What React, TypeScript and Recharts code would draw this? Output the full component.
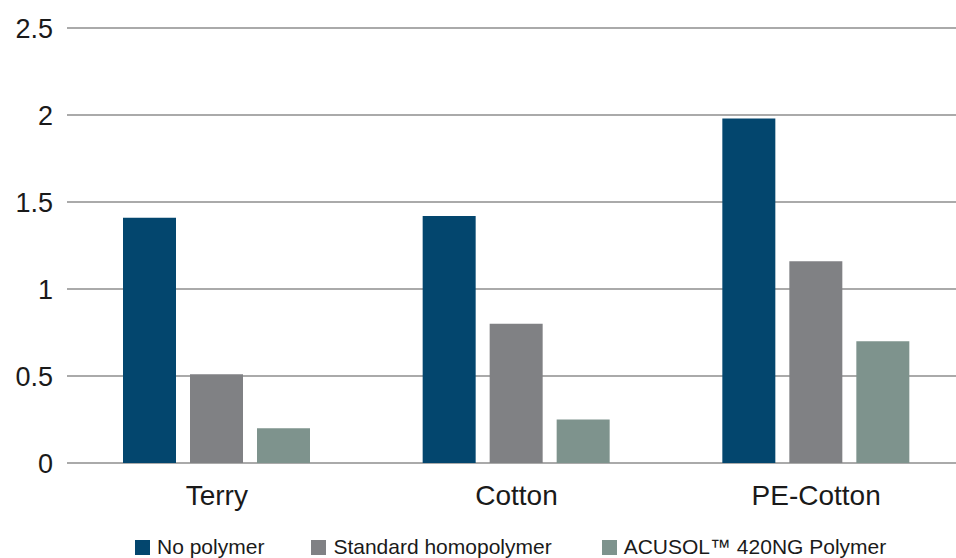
import React from "react";
import { BarChart, Bar, XAxis, YAxis, CartesianGrid, Legend } from "recharts";

const categories = ["Terry", "Cotton", "PE-Cotton"];
const noPolymer = [1.41, 1.42, 1.98];
const standardHomopolymer = [0.51, 0.8, 1.16];
const acusol = [0.2, 0.25, 0.7];
const yTicks = [0, 0.5, 1, 1.5, 2, 2.5];

const seriesNames = ["No polymer", "Standard homopolymer", "ACUSOL\u2122 420NG Polymer"];
const seriesKeys = ["a", "b", "c"];
const seriesColors = ["#03466e", "#808184", "#7e938d"];

const data = categories.map((c, i) => ({
  name: c,
  a: noPolymer[i],
  b: standardHomopolymer[i],
  c: acusol[i],
}));

const FONT = "'Liberation Sans', Arial, Helvetica, sans-serif";

const LegendContent = () => (
  <div
    style={{
      display: "flex",
      justifyContent: "flex-start",
      paddingLeft: 135,
      fontFamily: FONT,
      fontSize: 21,
      color: "#1a1a1a",
      lineHeight: "24px",
    }}
  >
    {seriesNames.map((n, i) => (
      <div
        key={n}
        style={{ display: "flex", alignItems: "center", marginRight: i === 0 ? 47 : 50 }}
      >
        <span
          style={{
            display: "inline-block",
            width: 15,
            height: 15,
            background: seriesColors[i],
            marginRight: 7,
          }}
        />
        <span>{n}</span>
      </div>
    ))}
  </div>
);

export default function App() {
  return (
    <div
      style={{
        position: "absolute",
        left: 0,
        top: 0,
        width: 956,
        height: 558,
        overflow: "hidden",
        background: "#fff",
      }}
    >
      <BarChart
        width={966}
        height={558}
        data={data}
        margin={{ top: 28, right: 0, bottom: 0, left: 0 }}
        barSize={53}
        barGap={14}
      >
        <CartesianGrid vertical={false} stroke="#aaaaaa" strokeWidth={2} />
        <XAxis
          dataKey="name"
          axisLine={false}
          tickLine={false}
          tickSize={0}
          tickMargin={22}
          height={62}
          tick={{ fontSize: 28, fill: "#1a1a1a", fontFamily: FONT }}
          interval={0}
        />
        <YAxis
          domain={[0, 2.5]}
          ticks={yTicks}
          axisLine={false}
          tickLine={false}
          tickSize={0}
          tickMargin={14}
          width={67}
          tick={{ fontSize: 27, fill: "#1a1a1a", fontFamily: FONT }}
        />
        <Legend
          verticalAlign="bottom"
          content={<LegendContent />}
          wrapperStyle={{ left: 0, width: 956, bottom: -10, height: 33 }}
        />
        {seriesKeys.map((k, i) => (
          <Bar
            key={k}
            dataKey={k}
            name={seriesNames[i]}
            fill={seriesColors[i]}
            isAnimationActive={false}
          />
        ))}
      </BarChart>
    </div>
  );
}
